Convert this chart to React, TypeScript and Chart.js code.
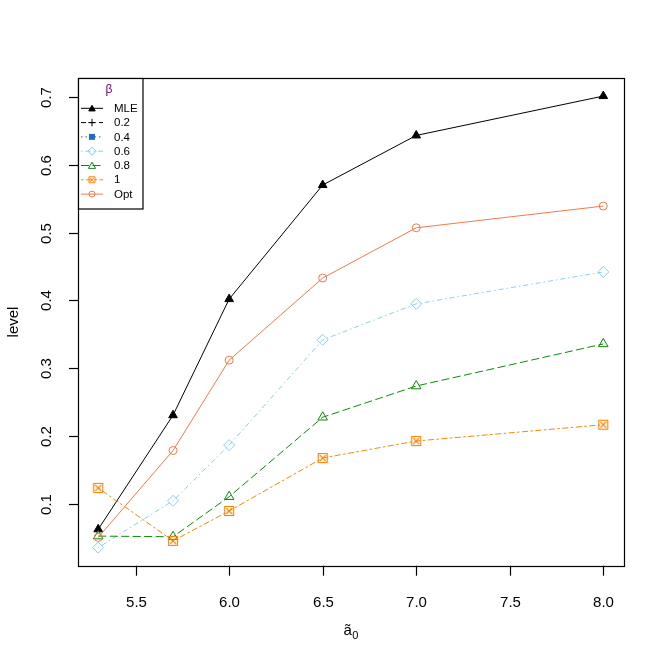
import React, { useEffect, useRef } from "react";
import { Chart, registerables } from "chart.js";

Chart.register(...registerables);

// ---- data ----
const XS = [5.3, 5.7, 6.0, 6.5, 7.0, 8.0];
const SERIES_NAMES = ["MLE", "0.2", "0.4", "0.6", "0.8", "1", "Opt"];
const MLE = [0.063, 0.231, 0.402, 0.570, 0.643, 0.701];
const B02: (number | null)[] = [null, null, null, null, null, null];
const B04: (number | null)[] = [null, null, null, null, null, null];
const B06 = [0.036, 0.105, 0.187, 0.342, 0.395, 0.442];
const B08 = [0.053, 0.052, 0.111, 0.228, 0.274, 0.336];
const B1 = [0.124, 0.046, 0.090, 0.168, 0.193, 0.217];
const OPT = [0.051, 0.179, 0.312, 0.433, 0.507, 0.539];
const X_TICKS = [5.5, 6.0, 6.5, 7.0, 7.5, 8.0];
const X_TICK_LABELS = ["5.5", "6.0", "6.5", "7.0", "7.5", "8.0"];
const Y_TICKS = [0.1, 0.2, 0.3, 0.4, 0.5, 0.6, 0.7];
const Y_TICK_LABELS = ["0.1", "0.2", "0.3", "0.4", "0.5", "0.6", "0.7"];
const LEGEND_TITLE = "β";
const X_TITLE = "ã";
const X_TITLE_SUB = "0";
const Y_TITLE = "level";

const SERIES_VALUES = [MLE, B02, B04, B06, B08, B1, OPT];

// ---- styles ----
const FONT = '"Liberation Sans", Arial, sans-serif';
type Sty = { color: string; dash: number[]; marker: string; r: number; fill: boolean };
const STYLES: Sty[] = [
  { color: "#000000", dash: [], marker: "triangle", r: 5, fill: true },
  { color: "#000000", dash: [5, 4], marker: "cross", r: 5, fill: false },
  { color: "#1C6BD0", dash: [1.5, 3], marker: "rect", r: 5.5, fill: true },
  { color: "#87CEFA", dash: [1.5, 3, 5, 3], marker: "rectRot", r: 5.5, fill: false },
  { color: "#0A8A0A", dash: [8, 3.5], marker: "triangle", r: 5.5, fill: false },
  { color: "#FF8400", dash: [2.5, 2.5, 6, 2.5], marker: "sqx", r: 5, fill: false },
  { color: "#F4794B", dash: [], marker: "circle", r: 4, fill: false },
];

function makeSqX(color: string, side: number) {
  const c = document.createElement("canvas");
  const s = Math.ceil(side) + 3;
  c.width = s;
  c.height = s;
  const g = c.getContext("2d")!;
  g.strokeStyle = color;
  g.lineWidth = 1.1;
  const o = (s - side) / 2;
  g.strokeRect(o, o, side, side);
  g.beginPath();
  g.moveTo(o + 1.5, o + 1.5);
  g.lineTo(o + side - 1.5, o + side - 1.5);
  g.moveTo(o + side - 1.5, o + 1.5);
  g.lineTo(o + 1.5, o + side - 1.5);
  g.stroke();
  return c;
}

function drawMarker(ctx: CanvasRenderingContext2D, st: Sty, x: number, y: number, k: number) {
  const r = st.r * k;
  ctx.save();
  ctx.setLineDash([]);
  ctx.strokeStyle = st.color;
  ctx.fillStyle = st.color;
  ctx.lineWidth = 1;
  ctx.beginPath();
  switch (st.marker) {
    case "triangle": {
      for (let i = 0; i < 3; i++) {
        const a = (i * 2 * Math.PI) / 3;
        const px = x + Math.sin(a) * r;
        const py = y - Math.cos(a) * r + r * 0.2;
        if (i === 0) ctx.moveTo(px, py);
        else ctx.lineTo(px, py);
      }
      ctx.closePath();
      if (st.fill) ctx.fill();
      ctx.stroke();
      break;
    }
    case "cross":
      ctx.moveTo(x - r, y);
      ctx.lineTo(x + r, y);
      ctx.moveTo(x, y - r);
      ctx.lineTo(x, y + r);
      ctx.stroke();
      break;
    case "rect": {
      const h = r * 0.72;
      ctx.rect(x - h, y - h, 2 * h, 2 * h);
      ctx.fill();
      break;
    }
    case "rectRot":
      ctx.moveTo(x, y - r);
      ctx.lineTo(x + r, y);
      ctx.lineTo(x, y + r);
      ctx.lineTo(x - r, y);
      ctx.closePath();
      ctx.stroke();
      break;
    case "sqx": {
      const h = r * 0.8;
      ctx.rect(x - h, y - h, 2 * h, 2 * h);
      ctx.moveTo(x - h + 1, y - h + 1);
      ctx.lineTo(x + h - 1, y + h - 1);
      ctx.moveTo(x + h - 1, y - h + 1);
      ctx.lineTo(x - h + 1, y + h - 1);
      ctx.stroke();
      break;
    }
    case "circle":
      ctx.arc(x, y, r, 0, Math.PI * 2);
      ctx.stroke();
      break;
  }
  ctx.restore();
}

const framePlugin = {
  id: "rframe",
  afterDraw(chart: any) {
    const ctx: CanvasRenderingContext2D = chart.ctx;
    const a = chart.chartArea;
    const xs = chart.scales.x;
    const ys = chart.scales.y;
    ctx.save();
    ctx.strokeStyle = "#000";
    ctx.lineWidth = 1.2;
    ctx.setLineDash([]);
    ctx.strokeRect(Math.round(a.left) + 0.5, Math.round(a.top) + 0.5, Math.round(a.right - a.left), Math.round(a.bottom - a.top));

    // x ticks
    ctx.fillStyle = "#000";
    ctx.font = `15px ${FONT}`;
    ctx.textAlign = "center";
    ctx.textBaseline = "middle";
    X_TICKS.forEach((v, i) => {
      const px = Math.round(xs.getPixelForValue(v)) + 0.5;
      ctx.beginPath();
      ctx.moveTo(px, a.bottom);
      ctx.lineTo(px, a.bottom + 10);
      ctx.stroke();
      ctx.fillText(X_TICK_LABELS[i], px, 603);
    });
    // y ticks
    Y_TICKS.forEach((v, i) => {
      const py = Math.round(ys.getPixelForValue(v)) + 0.5;
      ctx.beginPath();
      ctx.moveTo(a.left, py);
      ctx.lineTo(a.left - 9, py);
      ctx.stroke();
      ctx.save();
      ctx.translate(47, py);
      ctx.rotate(-Math.PI / 2);
      ctx.fillText(Y_TICK_LABELS[i], 0, 0);
      ctx.restore();
    });
    // axis titles
    ctx.save();
    ctx.translate(14, 322);
    ctx.rotate(-Math.PI / 2);
    ctx.fillText(Y_TITLE, 0, 0);
    ctx.restore();
    ctx.textBaseline = "alphabetic";
    ctx.textAlign = "left";
    const cx = (a.left + a.right) / 2;
    ctx.font = `15px ${FONT}`;
    const w1 = ctx.measureText(X_TITLE).width;
    ctx.font = `11px ${FONT}`;
    const w2 = ctx.measureText(X_TITLE_SUB).width;
    const start = cx - (w1 + w2) / 2;
    ctx.font = `15px ${FONT}`;
    ctx.fillText(X_TITLE, start, 635);
    ctx.font = `11px ${FONT}`;
    ctx.fillText(X_TITLE_SUB, start + w1 + 0.5, 639);

    // legend
    const lx = Math.round(a.left) + 0.5;
    const ly = Math.round(a.top) + 0.5;
    const lw = 64.5;
    const lh = 130.5;
    ctx.fillStyle = "#fff";
    ctx.fillRect(lx, ly, lw, lh);
    ctx.strokeStyle = "#000";
    ctx.lineWidth = 1.2;
    ctx.strokeRect(lx, ly, lw, lh);
    ctx.font = `12px ${FONT}`;
    ctx.textAlign = "center";
    ctx.textBaseline = "middle";
    ctx.fillStyle = "#800080";
    ctx.fillText(LEGEND_TITLE, 109, 89.5);
    ctx.textAlign = "left";
    SERIES_NAMES.forEach((name, i) => {
      const st = STYLES[i];
      const y = 108.3 + i * 14.3;
      ctx.save();
      ctx.strokeStyle = st.color;
      ctx.lineWidth = 1;
      ctx.setLineDash(st.dash);
      ctx.beginPath();
      ctx.moveTo(81, y);
      ctx.lineTo(103, y);
      ctx.stroke();
      ctx.restore();
      drawMarker(ctx, st, 92, y, 0.75);
      ctx.fillStyle = "#000";
      ctx.font = `11.5px ${FONT}`;
      ctx.fillText(name, 114, y + 0.5);
    });
    ctx.restore();
  },
};

export default function App() {
  const ref = useRef<HTMLCanvasElement | null>(null);
  useEffect(() => {
    if (!ref.current) return;
    const all: number[] = [];
    SERIES_VALUES.forEach((s) => s.forEach((v) => { if (v !== null) all.push(v as number); }));
    const yLo = Math.min(...all);
    const yHi = Math.max(...all);
    const xLo = Math.min(...XS);
    const xHi = Math.max(...XS);
    const datasets = SERIES_NAMES.map((name, i) => {
      const st = STYLES[i];
      const vals = SERIES_VALUES[i];
      let ps: any = st.marker;
      if (st.marker === "sqx") ps = makeSqX(st.color, 9);
      return {
        label: name,
        data: XS.map((x, j) => ({ x, y: vals[j] })),
        borderColor: st.color,
        backgroundColor: st.fill ? st.color : "rgba(0,0,0,0)",
        borderWidth: 1,
        borderDash: st.dash,
        pointStyle: ps,
        pointRadius: st.r,
        pointBorderWidth: 1,
        pointBorderColor: st.color,
        pointBackgroundColor: st.fill ? st.color : "rgba(0,0,0,0)",
        fill: false,
        tension: 0,
        spanGaps: false,
        order: -i,
      };
    });
    const chart = new Chart(ref.current, {
      type: "line",
      data: { datasets } as any,
      options: {
        animation: false,
        responsive: false,
        devicePixelRatio: 1,
        layout: { padding: { left: 78, top: 78, right: 40.5, bottom: 98.3 } },
        plugins: { legend: { display: false }, tooltip: { enabled: false } },
        scales: {
          x: {
            type: "linear",
            display: false,
            min: xLo - 0.04 * (xHi - xLo),
            max: xHi + 0.04 * (xHi - xLo),
          },
          y: {
            type: "linear",
            display: false,
            min: yLo - 0.04 * (yHi - yLo),
            max: yHi + 0.04 * (yHi - yLo),
          },
        },
      },
      plugins: [framePlugin],
    } as any);
    return () => chart.destroy();
  }, []);
  return (
    <div style={{ position: "fixed", left: 0, top: 0, width: 664, height: 664, background: "#fff" }}>
      <canvas ref={ref} width={664} height={664} style={{ width: 664, height: 664 }} />
    </div>
  );
}
